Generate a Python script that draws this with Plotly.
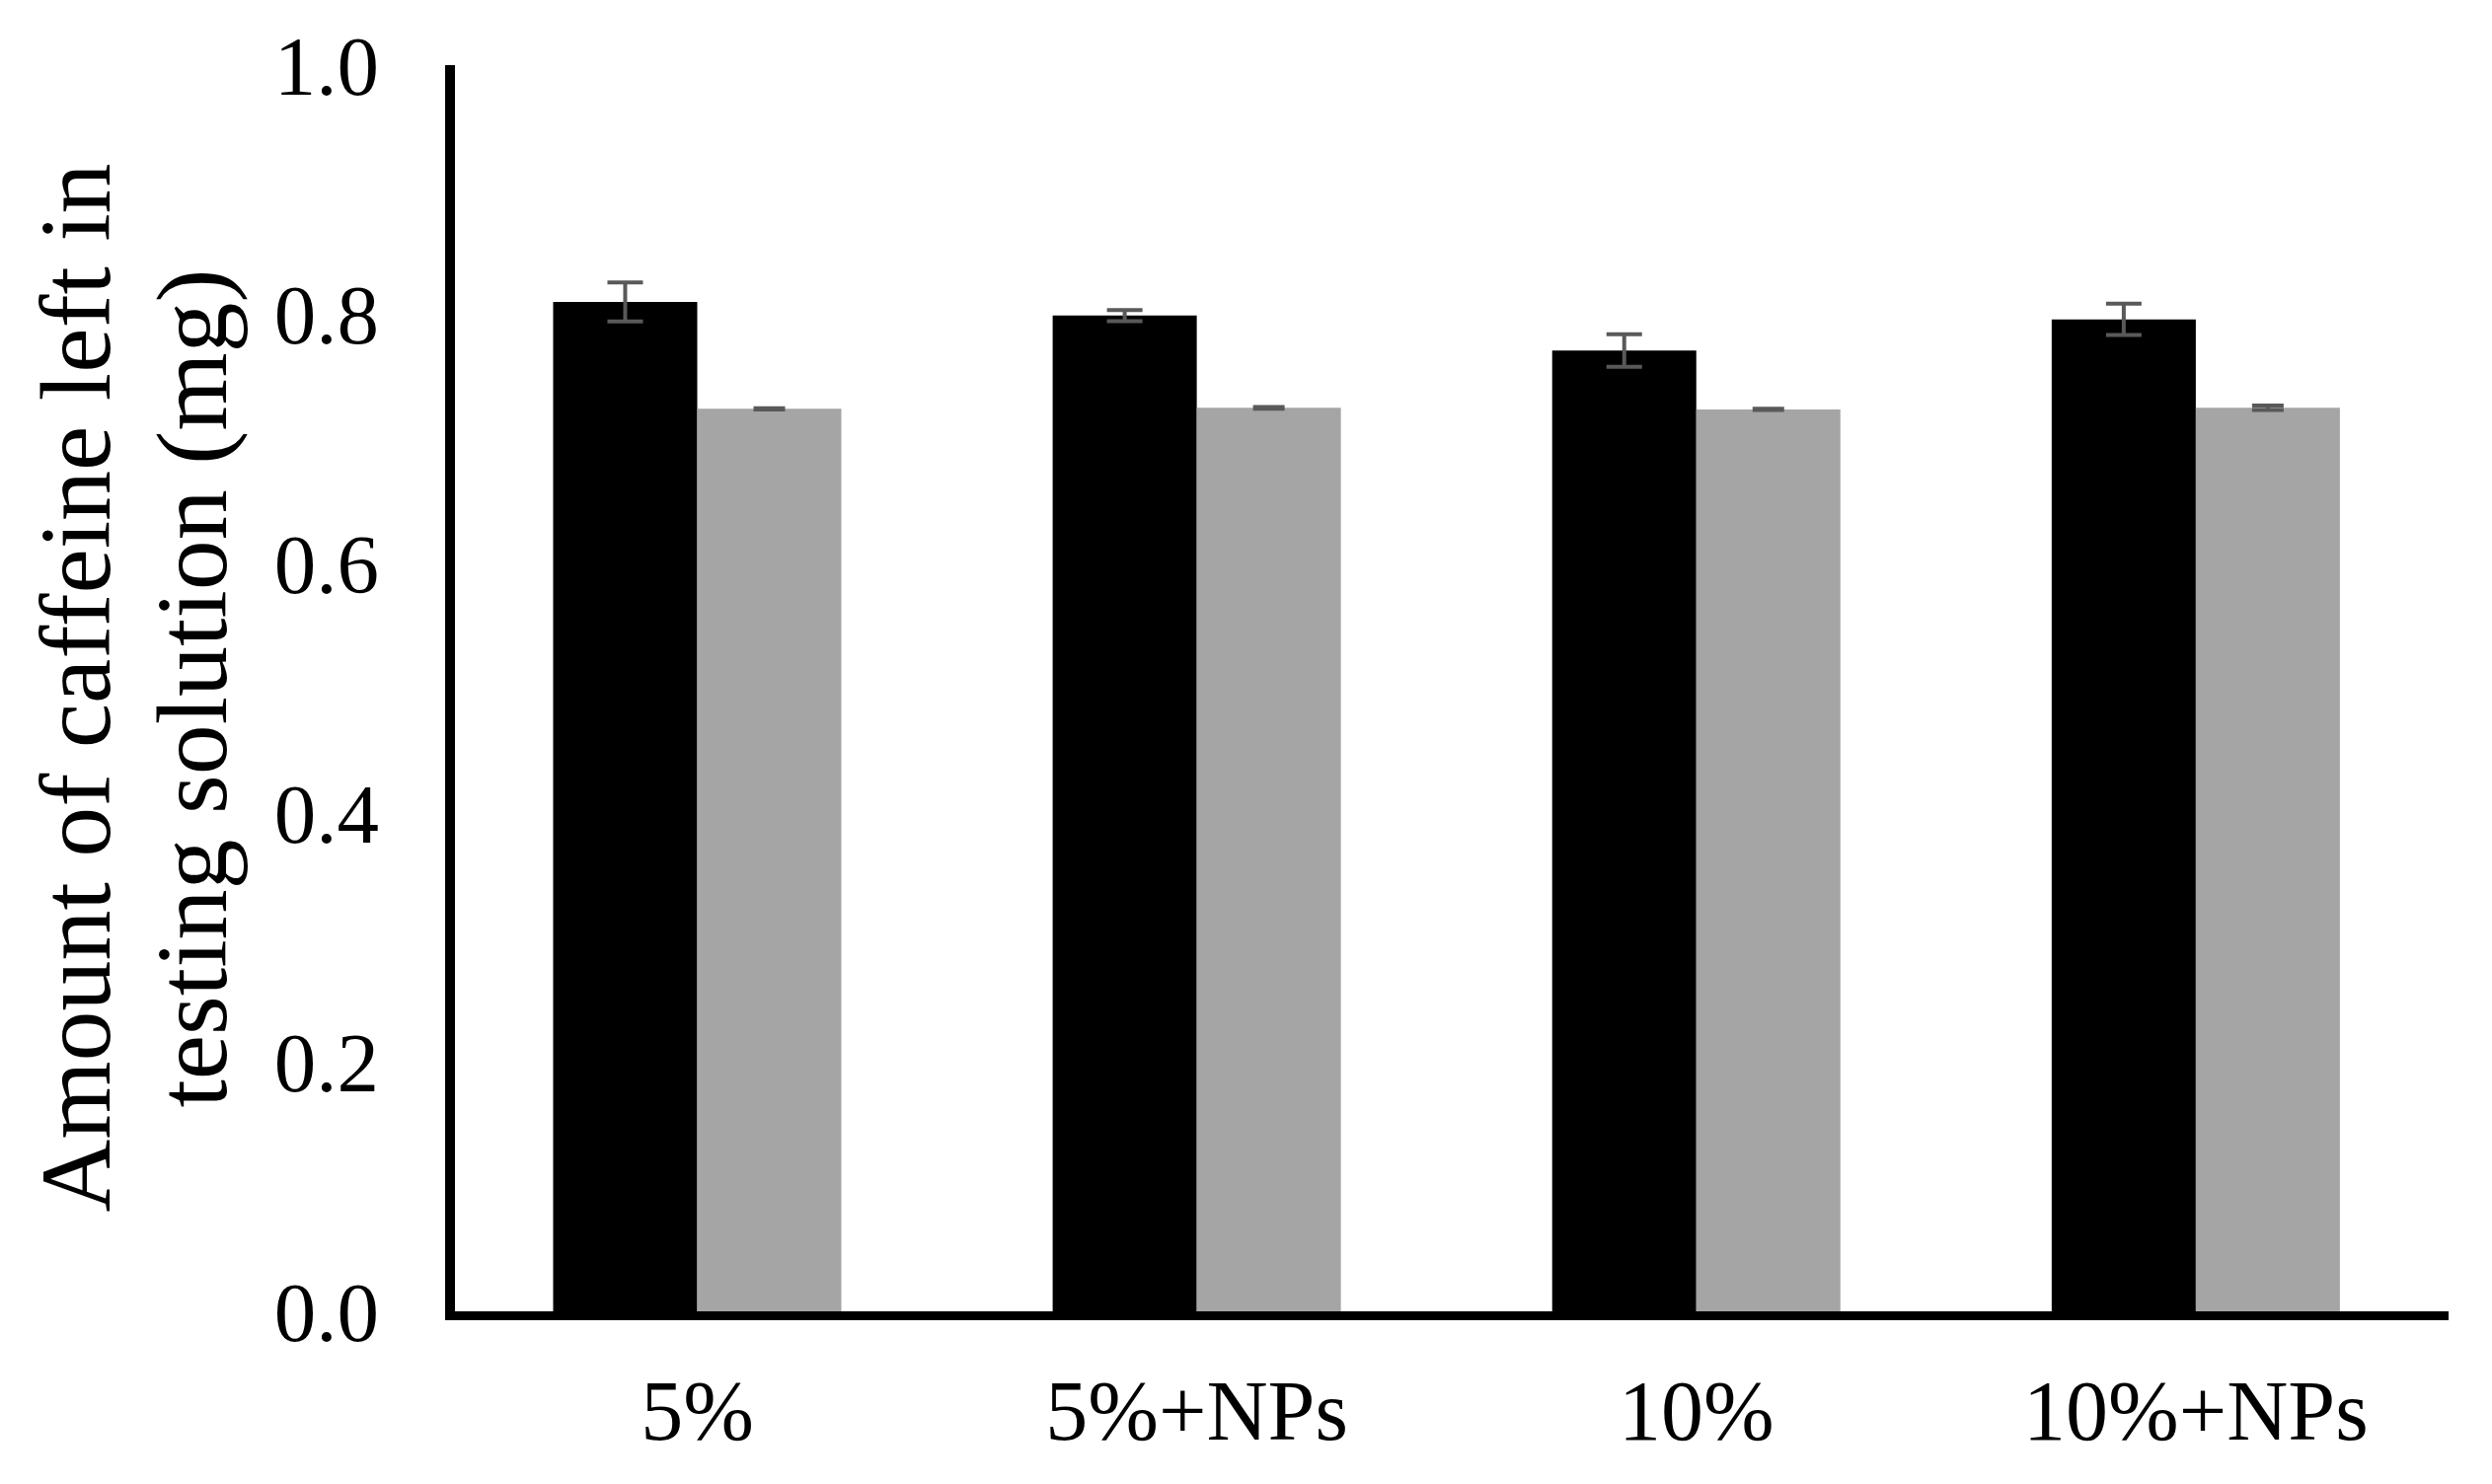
import plotly.graph_objects as go

categories = ["5%", "5%+NPs", "10%", "10%+NPs"]
series_a = [0.810, 0.799, 0.771, 0.796]
series_a_err = [0.0157, 0.0045, 0.013, 0.0125]
series_b = [0.7242, 0.725, 0.7237, 0.725]
series_b_err = [0.0005, 0.0007, 0.0005, 0.0018]
y_ticks = [0.0, 0.2, 0.4, 0.6, 0.8, 1.0]
title_lines = ["Amount of caffeine left in", "testing solution (mg)"]

FONT = "Liberation Serif"

fig = go.Figure()
fig.add_trace(go.Bar(
    x=categories, y=series_a, marker=dict(color="#000000", line=dict(width=0)),
    error_y=dict(type="data", array=series_a_err, color="#595959", thickness=4, width=18),
    showlegend=False,
))
fig.add_trace(go.Bar(
    x=categories, y=series_b, marker=dict(color="#a5a5a5", line=dict(width=0)),
    error_y=dict(type="data", array=series_b_err, color="#595959", thickness=4, width=16),
    showlegend=False,
))

fig.update_layout(
    width=2525, height=1504,
    margin=dict(l=453, r=52, t=58, b=183, autoexpand=False),
    paper_bgcolor="white", plot_bgcolor="white",
    barmode="group", bargap=0.423, bargroupgap=0,
    font=dict(family=FONT, color="black", size=85),
    xaxis=dict(
        type="category", range=[-0.485, 3.506],
        showline=True, linecolor="black", linewidth=9,
        showgrid=False, zeroline=False, ticks="",
        tickfont=dict(family=FONT, size=86, color="black"),
        ticklabelstandoff=18,
    ),
    yaxis=dict(
        range=[0, 1.0], tickvals=y_ticks, tickformat=".1f",
        showline=True, linecolor="black", linewidth=10,
        showgrid=False, zeroline=False, ticks="",
        tickfont=dict(family=FONT, size=85, color="black"),
        ticklabelstandoff=50,
    ),
)

for i, (line, xs) in enumerate(zip(title_lines, [-385, -267])):
    fig.add_annotation(
        text=line, xref="paper", yref="paper", x=0, y=0.5,
        xshift=xs, yshift=0, textangle=-90, showarrow=False,
        xanchor="center", yanchor="middle",
        font=dict(family=FONT, size=102, color="black"),
    )

fig.write_html("out.html")
